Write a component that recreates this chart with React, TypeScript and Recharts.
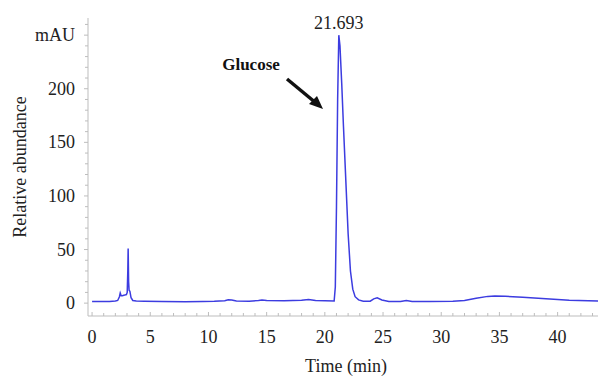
import { LineChart, Line, XAxis, YAxis, ReferenceDot } from "recharts";

// retention time (min) and absorbance (mAU)
const times = [
  0, 1.5, 2.0, 2.2, 2.35, 2.42, 2.5, 2.6, 2.8, 2.95, 3.02, 3.07, 3.1, 3.14,
  3.18, 3.25, 3.35, 3.5, 3.8, 4.5, 6, 8, 9.5, 10.5, 11.4, 11.7, 12.0, 12.4,
  13.5, 14.3, 14.6, 15.0, 16.5, 18.0, 18.6, 19.2, 20.8, 20.9, 21.0, 21.1, 21.2,
  21.3, 21.45, 21.6, 21.8, 22.0, 22.2, 22.4, 22.6, 22.9, 23.3, 23.9, 24.2,
  24.5, 24.9, 25.5, 26.5, 27.0, 27.5, 29, 31, 32, 33, 34, 34.6, 35.5, 37, 39,
  41, 43.6,
];
const absorbance = [
  1.5, 1.5, 2, 2.5, 6, 9.5, 7, 7, 7.5, 8, 10, 30, 51, 20, 12, 11, 5, 2.5, 2,
  1.8, 1.6, 1.4, 1.6, 1.8, 2.2, 3.2, 3.0, 2.0, 1.8, 2.5, 3, 2.4, 2.2, 2.6, 3.5,
  2.5, 2, 15, 90, 190, 250, 240, 205, 165, 115, 65, 30, 13, 6, 3, 1.8, 1.8, 4,
  5, 3, 1.5, 1.5, 2.5, 1.5, 1.5, 1.8, 2.5, 4.5, 6.3, 6.7, 6.4, 5.5, 4.2, 2.8,
  2.0,
];

const xTicks = Array.from({ length: 44 }, (_, i) => i);
const yTicks = Array.from({ length: 27 }, (_, i) => i * 10);
const peakTime = 21.2;
const peakLabel = "21.693";

const data = times.map((t, i) => ({ t, v: absorbance[i] }));

const font = "'Liberation Serif', 'Times New Roman', serif";
const axisColor = "#bdbdbd";

const XTick = (props: any) => {
  const { x, y, payload } = props;
  const major = payload.value % 5 === 0;
  return (
    <g>
      <line x1={x} x2={x} y1={y} y2={y - (major ? 4 : 3)} stroke={axisColor} />
      {major && (
        <text x={x} y={y + 27} textAnchor="middle" fontSize={18} fontFamily={font} fill="#222">
          {payload.value}
        </text>
      )}
    </g>
  );
};

const YTick = (props: any) => {
  const { x, y, payload } = props;
  const major = payload.value % 50 === 0;
  return (
    <g>
      <line x1={x} x2={x - (major ? 4 : 3)} y1={y} y2={y} stroke={axisColor} />
      {major && (
        <text x={x - 13} y={y + 6} textAnchor="end" fontSize={18} fontFamily={font} fill="#222">
          {payload.value === 250 ? "mAU" : payload.value}
        </text>
      )}
    </g>
  );
};

export default function App() {
  return (
    <div style={{ position: "relative", width: 606, height: 376, margin: "-8px 0 0 -8px", background: "#fff" }}>
      <LineChart width={606} height={376} data={data} margin={{ top: 18, right: 3, bottom: 0, left: 0 }}>
        <XAxis
          dataKey="t"
          type="number"
          domain={[-0.35, 43.9]}
          ticks={xTicks}
          interval={0}
          tickSize={0}
          tickMargin={0}
          tickLine={false}
          tick={<XTick />}
          height={60}
          axisLine={{ stroke: axisColor }}
          allowDataOverflow
        />
        <YAxis
          type="number"
          domain={[-12, 266]}
          ticks={yTicks}
          interval={0}
          tickSize={0}
          tickMargin={0}
          tickLine={false}
          tick={<YTick />}
          width={88}
          axisLine={{ stroke: axisColor }}
          allowDataOverflow
        />
        <Line
          dataKey="v"
          type="linear"
          stroke="#3c3ce0"
          strokeWidth={1.5}
          dot={false}
          isAnimationActive={false}
        />
        <ReferenceDot
          x={peakTime}
          y={250}
          r={0}
          stroke="none"
          label={{ value: peakLabel, position: "top", offset: 6, fontSize: 18, fontFamily: font, fill: "#222" }}
        />
      </LineChart>
      <svg width={606} height={376} style={{ position: "absolute", left: 0, top: 0, pointerEvents: "none" }}>
        <text x={20} y={167} transform="rotate(-90 20 167)" textAnchor="middle" dominantBaseline="central" fontSize={18} fontFamily={font} fill="#222">
          Relative abundance
        </text>
        <text x={346} y={372} textAnchor="middle" fontSize={18} fontFamily={font} fill="#222">
          Time (min)
        </text>
        <text x={251} y={70} textAnchor="middle" fontSize={17} fontWeight="bold" fontFamily={font} fill="#111">
          Glucose
        </text>
        <line x1={287} y1={79} x2={316} y2={103} stroke="#111" strokeWidth={3.5} />
        <polygon points="323,109 309,104 317,96" fill="#111" />
      </svg>
    </div>
  );
}
